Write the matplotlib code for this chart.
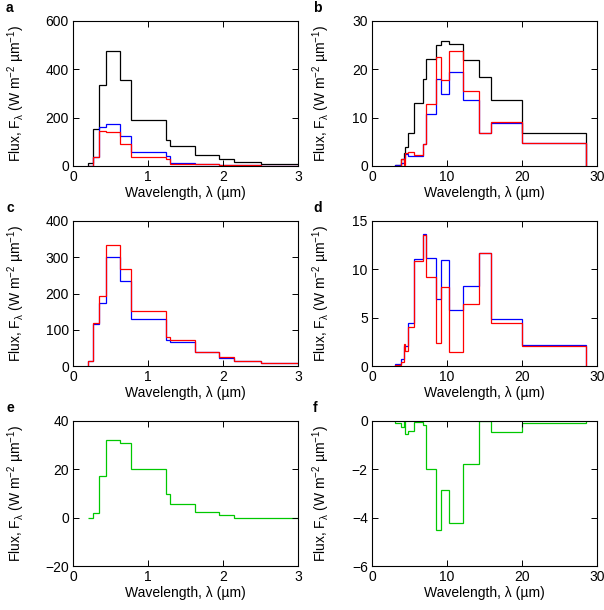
"""Six-panel band-resolved spectral flux figure (shortwave left, longwave right)."""

import matplotlib

matplotlib.use("Agg")
import matplotlib.pyplot as plt
import numpy as np

plt.rcParams["font.family"] = ["Liberation Sans", "DejaVu Sans"]
plt.rcParams["mathtext.fontset"] = "custom"
plt.rcParams["mathtext.rm"] = "Liberation Sans"
plt.rcParams["mathtext.it"] = "Liberation Sans:italic"
plt.rcParams["font.size"] = 10

# band edges (um)
sw_edges = [0.2, 0.263, 0.345, 0.442, 0.625, 0.778, 1.242, 1.299, 1.626, 1.942, 2.151, 2.5, 3.077]
lw_edges = [3.077, 3.846, 4.202, 4.444, 4.808, 5.556, 6.757, 7.194, 8.475, 9.259,
            10.204, 12.195, 14.286, 15.873, 20.0, 28.571]

# panel a
a_black = [12, 154, 337, 476, 357, 189, 109, 81, 45, 28, 17, 10]
a_blue = [0, 37, 161, 175, 123, 58, 40, 12, 8, 5, 4, 0]
a_red = [0, 37, 145, 142, 90, 37, 29, 10, 7, 4, 3, 0]

# panel b
b_black = [0.3, 1.5, 2.6, 3.9, 6.8, 13.1, 18.0, 22.1, 25.1, 25.9, 25.2, 22.0, 18.5, 13.7, 6.9]
b_blue = [0.3, 0.6, 1.6, 2.4, 2.1, 2.1, 4.5, 10.8, 18.1, 14.9, 19.5, 13.7, 6.8, 8.8, 4.7]
b_red = [0.1, 1.4, 0.3, 2.6, 2.9, 2.2, 4.6, 12.8, 22.6, 17.8, 23.7, 15.6, 6.8, 9.1, 4.8]

# panel c
c_blue = [13, 117, 175, 301, 235, 131, 73, 66, 38, 22, 14, 9]
c_red = [13, 118, 192, 333, 267, 152, 81, 71, 40, 25, 14, 8]

# panel d
d_blue = [0.2, 0.7, 2.1, 2.1, 4.4, 11.1, 13.7, 11.2, 6.9, 11.0, 5.8, 8.3, 11.7, 4.9, 2.2]
d_red = [0.1, 0.45, 2.3, 1.55, 4.0, 10.9, 13.5, 9.2, 2.4, 8.2, 1.5, 6.4, 11.7, 4.4, 2.1]

# panel e / f differences
e_green = [0, 1.9, 17.2, 32.0, 31.0, 20.1, 9.7, 5.7, 2.3, 1.2, 0, 0]
f_green = [-0.1, -0.25, 0.0, -0.55, -0.41, -0.04, -0.18, -1.97, -4.52, -2.84, -4.23, -1.79, 0.0, -0.44, -0.1]

GREEN = "#00c800"
YLABEL = "Flux, F$_{\\mathregular{λ}}$ (W m$^{\\mathregular{-2}}$ µm$^{\\mathregular{-1}}$)"
XLABEL = "Wavelength, λ (µm)"


def style_axes(ax, xlim, xticks, ylim, yticks, left_col):
    ax.set_xlim(*xlim)
    ax.set_ylim(*ylim)
    ax.set_xticks(xticks)
    ax.set_yticks(yticks)
    ax.tick_params(direction="in", top=True, right=True, length=4, width=0.7, pad=3, labelsize=10)
    for s in ax.spines.values():
        s.set_linewidth(0.8)
    ax.set_xlabel(XLABEL, fontsize=10)
    ax.xaxis.set_label_coords(0.5, -0.135)
    ax.set_ylabel(YLABEL, fontsize=10)
    ax.yaxis.set_label_coords(-0.205 if left_col else -0.18, 0.5)


fig = plt.figure(figsize=(6.04, 6.10), dpi=100)
lefts = [73 / 604, 372 / 604]
width = 225 / 604
bottoms = [1 - 166 / 610, 1 - 366 / 610, 1 - 566 / 610]
height = 145 / 610

panels = [
    ("a", 0, 0, sw_edges, [(a_black, "k"), (a_blue, "b"), (a_red, "r")], (0, 3), [0, 1, 2, 3], (0, 600), [0, 200, 400, 600]),
    ("b", 1, 0, lw_edges, [(b_black, "k"), (b_blue, "b"), (b_red, "r")], (0, 30), [0, 10, 20, 30], (0, 30), [0, 10, 20, 30]),
    ("c", 0, 1, sw_edges, [(c_blue, "b"), (c_red, "r")], (0, 3), [0, 1, 2, 3], (0, 400), [0, 100, 200, 300, 400]),
    ("d", 1, 1, lw_edges, [(d_blue, "b"), (d_red, "r")], (0, 30), [0, 10, 20, 30], (0, 15), [0, 5, 10, 15]),
    ("e", 0, 2, sw_edges, [(e_green, GREEN)], (0, 3), [0, 1, 2, 3], (-20, 40), [-20, 0, 20, 40]),
    ("f", 1, 2, lw_edges, [(f_green, GREEN)], (0, 30), [0, 10, 20, 30], (-6, 0), [-6, -4, -2, 0]),
]

for letter, col, row, edges, series, xlim, xticks, ylim, yticks in panels:
    ax = fig.add_axes([lefts[col], bottoms[row], width, height])
    for vals, color in series:
        ax.stairs(np.array(vals, dtype=float), edges, baseline=0, color=color, linewidth=0.9)
    style_axes(ax, xlim, xticks, ylim, yticks, col == 0)
    fig.text(lefts[col] - (67 if col == 0 else 59) / 604, bottoms[row] + height + 20 / 610, letter,
             fontsize=10, fontweight="bold", va="top", ha="left")

fig.savefig("out.png", dpi=100)
